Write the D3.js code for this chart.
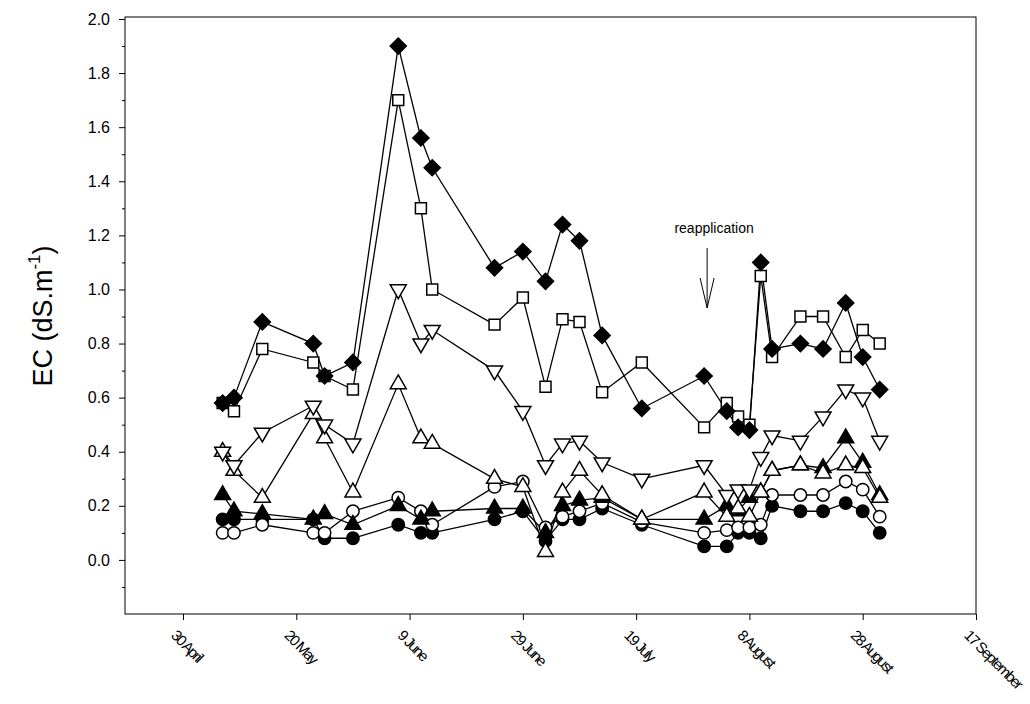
<!DOCTYPE html>
<html><head><meta charset="utf-8">
<script src="https://cdn.jsdelivr.net/npm/d3@7"></script>
<style>body{margin:0;background:#fff}text{font-family:"Liberation Sans",Arial,sans-serif}</style>
</head><body><svg id="c" width="1030" height="704"></svg>
<script>
const dates = ["05-07","05-09","05-14","05-23","05-25","05-30","06-07","06-11","06-13","06-24","06-29","07-03","07-06","07-09","07-13","07-20","07-31","08-04","08-06","08-08","08-10","08-12","08-17","08-21","08-25","08-28","08-31"];
const filledCircle = [0.15,0.15,0.15,0.15,0.08,0.08,0.13,0.10,0.10,0.15,0.18,0.07,0.15,0.15,0.19,0.13,0.05,0.05,0.10,0.10,0.08,0.20,0.18,0.18,0.21,0.18,0.10];
const openCircle = [0.10,0.10,0.13,0.10,0.10,0.18,0.23,0.18,0.13,0.27,0.29,0.12,0.16,0.18,0.21,0.14,0.10,0.11,0.12,0.12,0.13,0.24,0.24,0.24,0.29,0.26,0.16];
const filledTri = [0.24,0.18,0.17,0.15,0.17,0.13,0.20,0.15,0.18,0.19,0.19,0.10,0.20,0.22,0.23,0.15,0.15,0.20,0.18,0.23,0.25,0.33,0.35,0.34,0.45,0.36,0.24];
const openTri = [0.40,0.33,0.23,0.54,0.45,0.25,0.65,0.45,0.43,0.30,0.27,0.03,0.25,0.33,0.24,0.15,0.25,0.16,0.19,0.16,0.25,0.33,0.35,0.32,0.35,0.34,0.23];
const downTri = [0.40,0.35,0.47,0.57,0.50,0.43,1.00,0.80,0.85,0.70,0.55,0.35,0.43,0.44,0.36,0.30,0.35,0.24,0.26,0.26,0.38,0.46,0.44,0.53,0.63,0.60,0.44];
const openSquare = [0.58,0.55,0.78,0.73,0.68,0.63,1.70,1.30,1.00,0.87,0.97,0.64,0.89,0.88,0.62,0.73,0.49,0.58,0.53,0.50,1.05,0.75,0.90,0.90,0.75,0.85,0.80];
const filledDiamond = [0.58,0.60,0.88,0.80,0.68,0.73,1.90,1.56,1.45,1.08,1.14,1.03,1.24,1.18,0.83,0.56,0.68,0.55,0.49,0.48,1.10,0.78,0.80,0.78,0.95,0.75,0.63];
const tickDates = ["04-30","05-20","06-09","06-29","07-19","08-08","08-28","09-17"];
const yTicks = [0,0.2,0.4,0.6,0.8,1.0,1.2,1.4,1.6,1.8,2.0];

const parse = d3.timeParse("%Y-%m-%d");
const P = s => parse("2001-" + s);
const svg = d3.select("#c");
const x = d3.scaleTime().domain([P("04-30"), P("09-17")]).range([183, 976]);
const y = d3.scaleLinear().domain([-0.2, 2.0]).range([614, 19]);
const L = 125, R = 976;

svg.append("rect").attr("x",L).attr("y",17).attr("width",R-L).attr("height",597)
  .attr("fill","none").attr("stroke","#000").attr("stroke-width",1);

const yAxis = svg.append("g").attr("transform",`translate(${L},0)`)
  .call(d3.axisLeft(y).tickValues(yTicks).tickFormat(d3.format(".1f")).tickSize(6).tickPadding(9));
yAxis.select(".domain").remove();
yAxis.selectAll("text").attr("font-size",16).attr("fill","#000");
svg.append("g").attr("transform",`translate(${L},0)`)
  .call(d3.axisLeft(y).tickValues(d3.range(-0.1,2.0,0.2)).tickFormat("").tickSize(3))
  .select(".domain").remove();

const xAxis = svg.append("g").attr("transform","translate(0,614)")
  .call(d3.axisBottom(x).tickValues(tickDates.map(P)).tickFormat(d3.timeFormat("%-d %B")).tickSize(6));
xAxis.select(".domain").remove();
xAxis.selectAll("text").attr("font-size",15).attr("letter-spacing",-1.6).attr("fill","#000")
  .attr("text-anchor","start").attr("dy",0).attr("transform","translate(-7,16) rotate(45)");

svg.append("text").attr("transform","translate(52,316) rotate(-90)").attr("text-anchor","middle")
  .attr("font-size",27).html('EC (dS.m<tspan dy="-12" font-size="17">-1</tspan><tspan dy="12">)</tspan>');

const series = [
  {v: filledCircle, sym: d3.symbolCircle, fill: "#000", size: 120},
  {v: openCircle, sym: d3.symbolCircle, fill: "#fff", size: 120},
  {v: filledTri, sym: d3.symbolTriangle, fill: "#000", size: 110},
  {v: openTri, sym: d3.symbolTriangle, fill: "#fff", size: 110},
  {v: downTri, sym: d3.symbolTriangle, fill: "#fff", size: 110, rot: 180},
  {v: openSquare, sym: d3.symbolSquare, fill: "#fff", size: 120},
  {v: filledDiamond, sym: d3.symbolSquare, fill: "#000", size: 130, rot: 45}
];
const line = d3.line().x(d => x(P(d[0]))).y(d => y(d[1]));
series.forEach(s => {
  const pts = dates.map((d,i) => [d, s.v[i]]);
  svg.append("path").attr("d", line(pts)).attr("fill","none").attr("stroke","#000").attr("stroke-width",1.3);
});
series.forEach(s => {
  const pts = dates.map((d,i) => [d, s.v[i]]);
  svg.append("g").selectAll("path").data(pts).join("path")
    .attr("d", d3.symbol(s.sym, s.size))
    .attr("transform", d => `translate(${x(P(d[0]))},${y(d[1])}) rotate(${s.rot||0})`)
    .attr("fill", s.fill).attr("stroke","#000").attr("stroke-width",1.5);
});

// reapplication arrow
const ax = x(P("07-31")) + 3;
svg.append("text").attr("x", ax + 7).attr("y", 233).attr("text-anchor","middle").attr("font-size",14).text("reapplication");
svg.append("path").attr("d", `M${ax},248 V308 M${ax-7},278 L${ax},308 L${ax+7},278`)
  .attr("fill","none").attr("stroke","#000").attr("stroke-width",1);
</script></body></html>
